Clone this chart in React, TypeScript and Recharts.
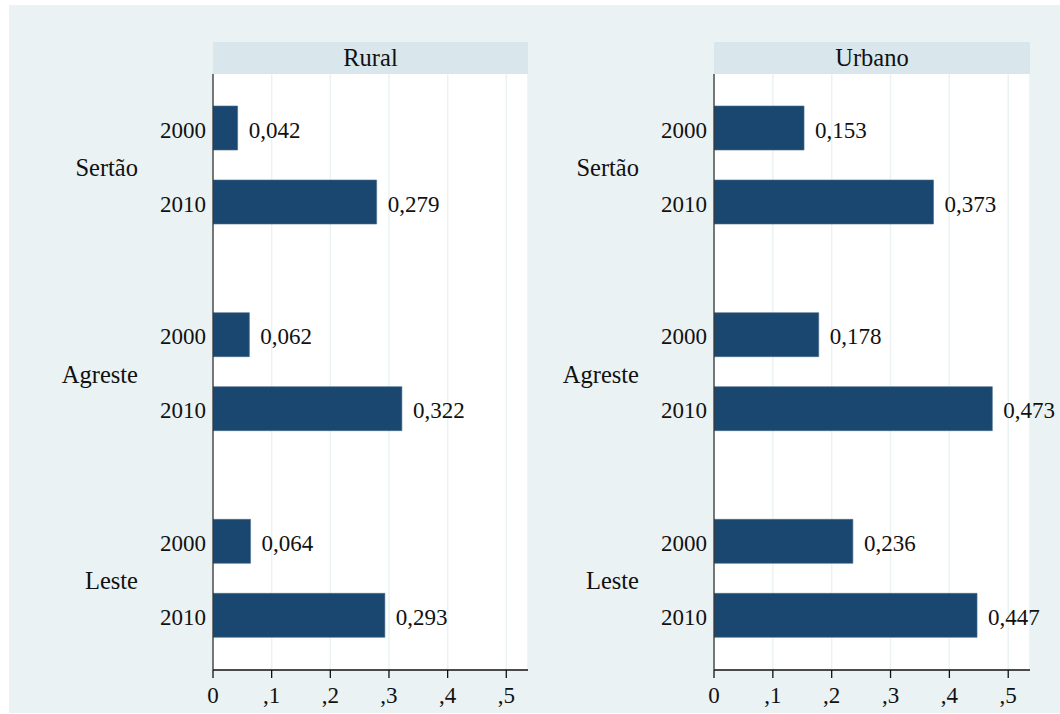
import React from 'react';
import { BarChart, Bar, XAxis, YAxis, CartesianGrid, LabelList } from 'recharts';

// Regions (rows) and the two census years shown inside each region
const regions = ['Sertão', 'Agreste', 'Leste'];
const years = ['2000', '2010'];

// Share per region and year, one pair of lists per panel
const rural2000 = [0.042, 0.062, 0.064];
const rural2010 = [0.279, 0.322, 0.293];
const urbano2000 = [0.153, 0.178, 0.236];
const urbano2010 = [0.373, 0.473, 0.447];

const panelTitles = ['Rural', 'Urbano'];
const xTicks = [0, 0.1, 0.2, 0.3, 0.4, 0.5];
const xMax = 0.537;

const FONT = "'Liberation Serif', 'Times New Roman', serif";
const FS_NUM = 23;
const FS_WORD = 24.5;
const BG = '#EAF2F3';
const STRIP = '#D9E6EB';
const NAVY = '#1A476F';
const INK = '#111';

const fmtValue = (v: number) => v.toFixed(3).replace('.', ',');
const fmtTick = (v: number) => (v === 0 ? '0' : ',' + String(Math.round(v * 10)));

const buildRows = (a: number[], b: number[]) =>
  regions.map((region, i) => ({ region, y2000: a[i], y2010: b[i] }));

const boxOf = (p: any) => {
  const vb = p.viewBox || p;
  return { x: Number(vb.x), y: Number(vb.y), w: Number(vb.width), h: Number(vb.height) };
};

const yearLabel = (year: string) => (p: any) => {
  const { x, y, h } = boxOf(p);
  return (
    <text x={x - 7} y={y + h / 2 + 2} textAnchor="end" dominantBaseline="central" fontFamily={FONT} fontSize={FS_NUM} fill={INK}>
      {year}
    </text>
  );
};

const valueLabel = (p: any) => {
  const { x, y, w, h } = boxOf(p);
  return (
    <text x={x + w + 11} y={y + h / 2 + 2} textAnchor="start" dominantBaseline="central" fontFamily={FONT} fontSize={FS_NUM} fill={INK}>
      {fmtValue(Number(p.value))}
    </text>
  );
};

const RegionTick = (props: any) => {
  const { x, y, payload } = props;
  return (
    <text x={x - 75} y={y + 2} textAnchor="end" dominantBaseline="central" fontFamily={FONT} fontSize={FS_WORD} fill={INK}>
      {payload.value}
    </text>
  );
};

type PanelProps = {
  rows: { region: string; y2000: number; y2010: number }[];
  left: number;
  width: number;
  plotLeft: number;
  title: string;
  stripLeft: number;
  stripWidth: number;
};

function Panel({ rows, left, width, plotLeft, title, stripLeft, stripWidth }: PanelProps) {
  const plotRight = stripLeft + stripWidth;
  return (
    <>
      <div
        style={{
          position: 'absolute',
          left: stripLeft,
          top: 42,
          width: stripWidth,
          height: 32,
          background: STRIP,
          fontFamily: FONT,
          fontSize: FS_WORD,
          color: INK,
          textAlign: 'center',
          lineHeight: '32px',
        }}
      >
        {title}
      </div>
      <div style={{ position: 'absolute', left, top: 5 }}>
        <BarChart
          width={width}
          height={708}
          data={rows}
          layout="vertical"
          margin={{ top: 69, bottom: 0, left: 0, right: left + width - plotRight }}
          barGap={30}
        >
          <CartesianGrid horizontal={false} vertical stroke={BG} strokeWidth={1.5} fill="#ffffff" />
          <XAxis
            type="number"
            domain={[0, xMax]}
            ticks={xTicks}
            tickFormatter={fmtTick}
            allowDataOverflow
            tickSize={8}
            tickMargin={9}
            stroke={INK}
            axisLine={{ stroke: INK, strokeWidth: 1.3 }}
            tickLine={{ stroke: INK, strokeWidth: 1.3 }}
            tick={{ fontFamily: FONT, fontSize: FS_NUM, fill: INK }}
            height={43}
          />
          <YAxis
            type="category"
            dataKey="region"
            width={plotLeft - left}
            tickSize={0}
            tickMargin={0}
            tickLine={false}
            axisLine={{ stroke: '#333', strokeWidth: 1.3 }}
            tick={<RegionTick />}
            padding={{ top: -12, bottom: -12 }}
            interval={0}
          />
          <Bar dataKey="y2000" fill={NAVY} stroke="#4A6D8C" strokeWidth={0.6} barSize={44} isAnimationActive={false}>
            <LabelList dataKey="y2000" content={yearLabel(years[0])} />
            <LabelList dataKey="y2000" content={valueLabel} />
          </Bar>
          <Bar dataKey="y2010" fill={NAVY} stroke="#4A6D8C" strokeWidth={0.6} barSize={44} isAnimationActive={false}>
            <LabelList dataKey="y2010" content={yearLabel(years[1])} />
            <LabelList dataKey="y2010" content={valueLabel} />
          </Bar>
        </BarChart>
      </div>
    </>
  );
}

export default function App() {
  return (
    <div style={{ position: 'absolute', left: 0, top: 0, width: 1060, height: 714, background: '#fff', overflow: 'hidden' }}>
      <div style={{ position: 'absolute', left: 9, top: 5, width: 1051, height: 708, background: BG }} />
      <Panel
        rows={buildRows(rural2000, rural2010)}
        left={9}
        width={540}
        plotLeft={213}
        title={panelTitles[0]}
        stripLeft={213}
        stripWidth={315}
      />
      <Panel
        rows={buildRows(urbano2000, urbano2010)}
        left={549}
        width={511}
        plotLeft={714}
        title={panelTitles[1]}
        stripLeft={714}
        stripWidth={316}
      />
    </div>
  );
}
